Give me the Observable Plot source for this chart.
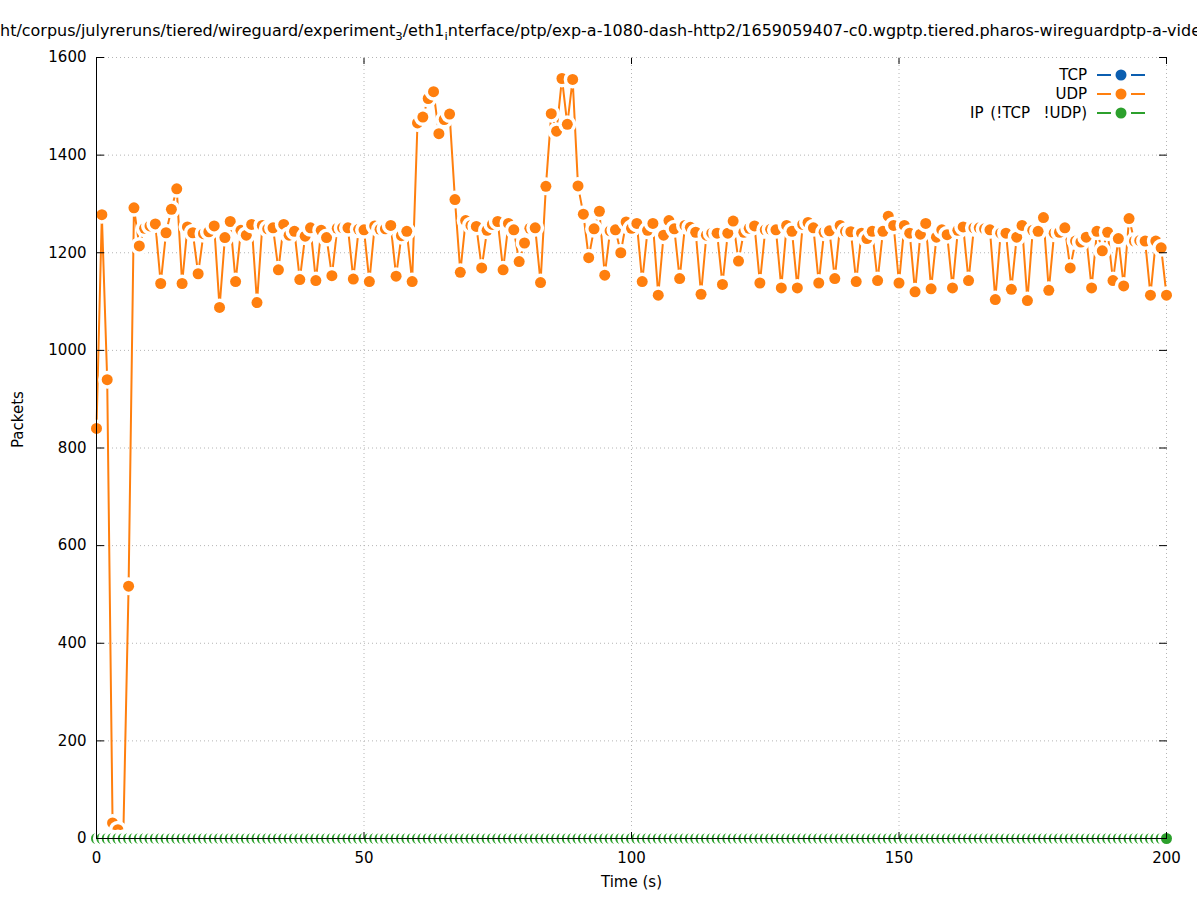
<!DOCTYPE html>
<html><head><meta charset="utf-8">
<script src="https://cdn.jsdelivr.net/npm/d3@7"></script>
<script src="https://cdn.jsdelivr.net/npm/@observablehq/plot@0.6"></script>
<style>
body{margin:0;background:#fff;font-family:"DejaVu Sans",sans-serif;}
#title{width:1197px;height:40px;overflow:hidden;}
#chart svg{display:block;}
</style></head><body>
<div id="title"></div>
<div id="chart"></div>
<script>
// ---- data ----
const time = d3.range(0, 201); // seconds 0..200
const udp = [
 840,1278,940,32,18,0,517,1292,1214,1250,1255,1259,1137,1241,1289,1331,1137,1253,1241,1157,
 1239,1243,1255,1088,1231,1264,1141,1246,1236,1258,1098,1256,1249,1251,1165,1258,1236,1244,1145,1234,
 1251,1143,1246,1231,1153,1250,1251,1251,1146,1248,1247,1141,1255,1248,1249,1256,1152,1235,1244,1141,
 1466,1478,1516,1530,1444,1473,1484,1309,1160,1266,1256,1254,1169,1246,1258,1264,1165,1260,1247,1182,
 1220,1250,1251,1139,1336,1485,1449,1557,1463,1555,1337,1279,1190,1249,1285,1154,1245,1247,1200,1263,
 1250,1260,1141,1246,1260,1113,1236,1266,1249,1147,1256,1252,1242,1115,1236,1240,1240,1135,1240,1265,
 1183,1242,1250,1255,1138,1247,1248,1247,1128,1256,1244,1128,1258,1262,1251,1138,1242,1245,1147,1256,
 1244,1243,1141,1240,1229,1244,1143,1244,1275,1256,1138,1256,1240,1120,1238,1260,1126,1232,1247,1237,
 1128,1246,1253,1143,1251,1251,1249,1247,1104,1240,1240,1125,1232,1256,1102,1246,1244,1272,1123,1240,
 1242,1251,1169,1224,1222,1232,1128,1244,1204,1242,1143,1229,1132,1270,1224,1225,1224,1113,1224,1210,
 1113
];
const tcp = time.map(() => 0);
const ip = time.map(() => 0);
const seriesNames = ["TCP", "UDP", "IP (!TCP  !UDP)"];
const seriesColors = ["#0b5eb0", "#ff7f0e", "#2ca02c"];
const seriesValues = [tcp, udp, ip];
const xTicks = [0, 50, 100, 150, 200];
const yTicks = [0, 200, 400, 600, 800, 1000, 1200, 1400, 1600];
const titleParts = [
  {t: "ht/corpus/julyreruns/tiered/wireguard/experiment", sub: false},
  {t: "3", sub: true},
  {t: "/eth1", sub: false},
  {t: "i", sub: true},
  {t: "nterface/ptp/exp-a-1080-dash-http2/1659059407-c0.wgptp.tiered.pharos-wireguardptp-a-vide", sub: false}
];
const xLabel = "Time (s)";
const yLabel = "Packets";

// ---- title ----
const tsvg = d3.select("#title").append("svg").attr("width", 1197).attr("height", 40);
const ttext = tsvg.append("text").attr("x", 0).attr("y", 36)
  .attr("font-family", "DejaVu Sans").attr("font-size", 15).attr("fill", "#000")
  .attr("textLength", 1201).attr("lengthAdjust", "spacingAndGlyphs");
titleParts.forEach((p, i) => {
  const ts = ttext.append("tspan").text(p.t);
  if (p.sub) ts.attr("font-size", 11).attr("dy", 4);
  else if (i > 0 && titleParts[i-1].sub) ts.attr("dy", -4);
});

// ---- chart ----
const series = seriesNames.map((name, i) => ({
  name, color: seriesColors[i],
  rows: time.map((t, j) => ({t, v: seriesValues[i][j]}))
}));

const chart = Plot.plot({
  width: 1197, height: 860,
  marginTop: 17, marginBottom: 62, marginLeft: 96, marginRight: 31,
  x: {domain: [0, 200]},
  y: {domain: [0, 1600]},
  style: {fontFamily: "DejaVu Sans", fontSize: "15px", color: "#000", background: "#fff", overflow: "visible"},
  marks: [
    Plot.gridX(xTicks, {stroke: "#b4b4b4", strokeOpacity: 1, strokeDasharray: "1,3"}),
    Plot.gridY(yTicks, {stroke: "#b4b4b4", strokeOpacity: 1, strokeDasharray: "1,3"}),
    ...series.flatMap(s => [
      Plot.line(s.rows, {x: "t", y: "v", stroke: s.color, strokeWidth: 2}),
      Plot.dot(s.rows, {x: "t", y: "v", r: 5.5, fill: s.color, stroke: "white", strokeWidth: 7, paintOrder: "stroke"})
    ]),
    Plot.ruleX([0], {stroke: "#000"}),
    Plot.ruleY([0], {stroke: "#000"}),
    Plot.axisY(yTicks, {anchor: "left", tickSize: 0, tickPadding: 10, label: null, tickFormat: d => String(d)}),
    Plot.axisX(xTicks, {anchor: "bottom", tickSize: 0, tickPadding: 14, label: null, tickFormat: d => String(d)}),
    Plot.axisY(yTicks, {anchor: "left", tickSize: -8, tickFormat: () => "", label: null, stroke: "#000"}),
    Plot.axisY(yTicks, {anchor: "right", tickSize: -8, tickFormat: () => "", label: null, stroke: "#000"}),
    Plot.axisX(xTicks, {anchor: "bottom", tickSize: -6, tickFormat: () => "", label: null, stroke: "#000"}),
    Plot.axisX(xTicks, {anchor: "top", tickSize: -6, tickFormat: () => "", label: null, stroke: "#000"}),
    Plot.text([xLabel], {text: d => d, frameAnchor: "bottom", dy: 48, fontSize: 15}),
    Plot.text([yLabel], {text: d => d, frameAnchor: "left", dx: -78, rotate: -90, fontSize: 15})
  ]
});
document.getElementById("chart").appendChild(chart);

// ---- legend (inside top-right of the frame) ----
const svg = d3.select(chart);
const frameRight = 1197 - 31, frameTop = 17;
const leg = svg.append("g").attr("font-family", "DejaVu Sans").attr("font-size", 15);
series.forEach((s, i) => {
  const y = frameTop + 18 + i * 19;
  leg.append("text").attr("x", frameRight - 79).attr("y", y).attr("dy", "0.35em")
    .attr("text-anchor", "end").attr("xml:space", "preserve").style("white-space", "pre")
    .style("word-spacing", "2px")
    .attr("fill", "#000").text(s.name);
  leg.append("line").attr("x1", frameRight - 69).attr("x2", frameRight - 55).attr("y1", y).attr("y2", y)
    .attr("stroke", s.color).attr("stroke-width", 2);
  leg.append("line").attr("x1", frameRight - 35).attr("x2", frameRight - 21).attr("y1", y).attr("y2", y)
    .attr("stroke", s.color).attr("stroke-width", 2);
  leg.append("circle").attr("cx", frameRight - 45).attr("cy", y).attr("r", 5.5).attr("fill", s.color);
});
</script>
</body></html>
